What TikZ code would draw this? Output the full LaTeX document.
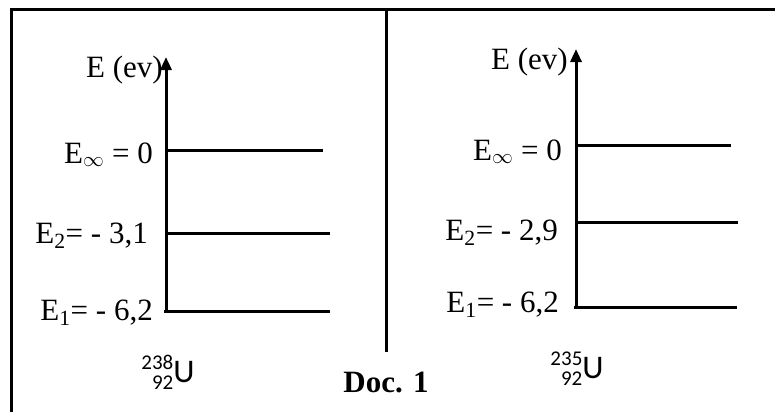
\documentclass[tikz,border=0pt]{standalone}
\usepackage{amsmath}
\usepackage{fontspec}
\setmainfont{Liberation Serif}
\newfontfamily\nucfont{Carlito}
\usepackage{tikz}
\usetikzlibrary{arrows.meta}
\newcommand{\nuclide}[2]{\raisebox{-7pt}{\fontsize{21}{18}\selectfont\begin{tabular}[b]{@{}r@{}}#1\\#2\end{tabular}}U}
\tikzset{
  frame/.style={draw=black,line width=3pt},
  axis/.style={draw=black,line width=3pt,-{Triangle[width=11pt,length=13pt]}},
  lvl/.style={draw=black,line width=3pt},
  lab/.style={anchor=base east,inner sep=0pt,font=\fontsize{31}{33}\selectfont},
  nuc/.style={anchor=base,inner sep=0pt,font=\nucfont\fontsize{33}{35}\selectfont},
}

\begin{document}
\begin{tikzpicture}[x=1pt,y=-1pt]
\useasboundingbox (0,0) rectangle (775,412);
% frame
\coordinate (f1) at (11,412);
\coordinate (f2) at (11,10);
\coordinate (f3) at (775,10);
\coordinate (d1) at (386,10);
\coordinate (d2) at (386,352);
\draw[frame] (f1)--(f2)--(f3);
\draw[frame] (d1)--(d2);
% left diagram
\coordinate (la0) at (166,311);
\coordinate (la1) at (166,57);
\coordinate (li0) at (166,150);
\coordinate (li1) at (323,150);
\coordinate (l20) at (166,233);
\coordinate (l21) at (330,233);
\coordinate (l10) at (164,311);
\coordinate (l11) at (330,311);
\draw[axis] (la0)--(la1);
\draw[lvl] (li0)--(li1);
\draw[lvl] (l20)--(l21);
\draw[lvl] (l10)--(l11);
\node[lab] (lE) at (163,77) {E (ev)};
\node[lab] (linf) at (153,163) {E$_\infty$ = 0};
\node[lab] (lE2) at (148,243) {E\textsubscript{2}= - 3,1};
\node[lab] (lE1) at (153,320) {E\textsubscript{1}= - 6,2};
\node[nuc] (lU) at (168,382) {\nuclide{238}{92}};
% right diagram
\coordinate (ra0) at (576,307);
\coordinate (ra1) at (576,49);
\coordinate (ri0) at (576,145);
\coordinate (ri1) at (731,145);
\coordinate (r20) at (576,222);
\coordinate (r21) at (738,222);
\coordinate (r10) at (574,307);
\coordinate (r11) at (737,307);
\draw[axis] (ra0)--(ra1);
\draw[lvl] (ri0)--(ri1);
\draw[lvl] (r20)--(r21);
\draw[lvl] (r10)--(r11);
\node[lab] (rE) at (568,70) {E (ev)};
\node[lab] (rinf) at (562,160) {E$_\infty$ = 0};
\node[lab] (rE2) at (558,240) {E\textsubscript{2}= - 2,9};
\node[lab] (rE1) at (559,312) {E\textsubscript{1}= - 6,2};
\node[nuc] (rU) at (577,378) {\nuclide{235}{92}};
% caption
\node[anchor=base,inner sep=0pt,font=\bfseries\fontsize{31}{33}\selectfont] (doc) at (386,392) {Doc. 1};
\end{tikzpicture}
\end{document}
